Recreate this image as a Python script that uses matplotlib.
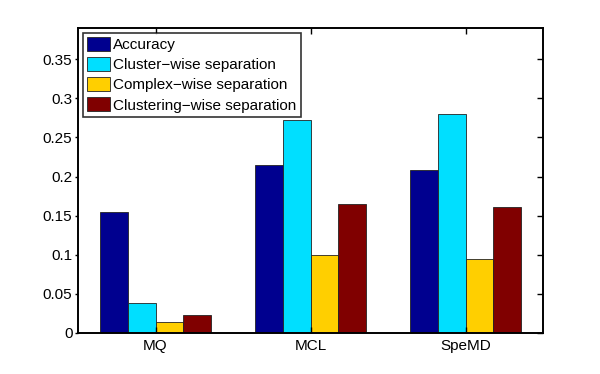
import matplotlib
matplotlib.use("Agg")
import matplotlib.pyplot as plt
import numpy as np

plt.rcParams['font.family'] = ['Liberation Sans', 'DejaVu Sans']

categories = ["MQ", "MCL", "SpeMD"]
series_names = ["Accuracy", "Cluster\u2212wise separation",
                "Complex\u2212wise separation", "Clustering\u2212wise separation"]
accuracy = [0.155, 0.215, 0.209]
cluster_sep = [0.039, 0.272, 0.280]
complex_sep = [0.0135, 0.100, 0.094]
clustering_sep = [0.023, 0.165, 0.1615]
yticks = [0, 0.05, 0.1, 0.15, 0.2, 0.25, 0.3, 0.35]
ytick_labels = ["0", "0.05", "0.1", "0.15", "0.2", "0.25", "0.3", "0.35"]

colors = ["#00008F", "#00DFFF", "#FFCF00", "#800000"]
series = [accuracy, cluster_sep, complex_sep, clustering_sep]

fig = plt.figure(figsize=(6.0, 3.74), dpi=100)
ax = fig.add_axes([78/600, 1 - 333/374, 465/600, 305/374])

x = np.arange(1, len(categories) + 1)
w = 0.18
for i, (vals, name, c) in enumerate(zip(series, series_names, colors)):
    ax.bar(x + (i - 1.5) * w, vals, width=w, color=c, edgecolor="#222222",
           linewidth=0.6, label=name)

ax.set_xlim(0.5, 3.5)
ax.set_ylim(0, 0.39)
ax.set_xticks(x)
ax.set_xticklabels(categories)
ax.set_yticks(yticks)
ax.set_yticklabels(ytick_labels)
ax.tick_params(axis="x", direction="in", top=True, length=4, width=1.0,
               labelsize=11, pad=4)
ax.tick_params(axis="y", direction="out", length=2.5, width=1.0,
               labelsize=11, pad=1.5)
for s in ax.spines.values():
    s.set_linewidth(1.2)

ax2 = ax.twinx()
ax2.set_ylim(ax.get_ylim())
ax2.set_yticks(yticks)
ax2.tick_params(axis="y", direction="in", length=4.5, width=1.0,
                labelright=False)
for s in ax2.spines.values():
    s.set_linewidth(1.2)

leg = ax.legend(loc="upper left", fontsize=11, frameon=True, fancybox=False,
                edgecolor="black", borderpad=0.3, handlelength=1.5,
                handleheight=1.0, handletextpad=0.2, labelspacing=0.33,
                borderaxespad=0.3)
leg.get_frame().set_linewidth(1.2)
leg.set_zorder(5)

fig.savefig("out.png", dpi=100)
